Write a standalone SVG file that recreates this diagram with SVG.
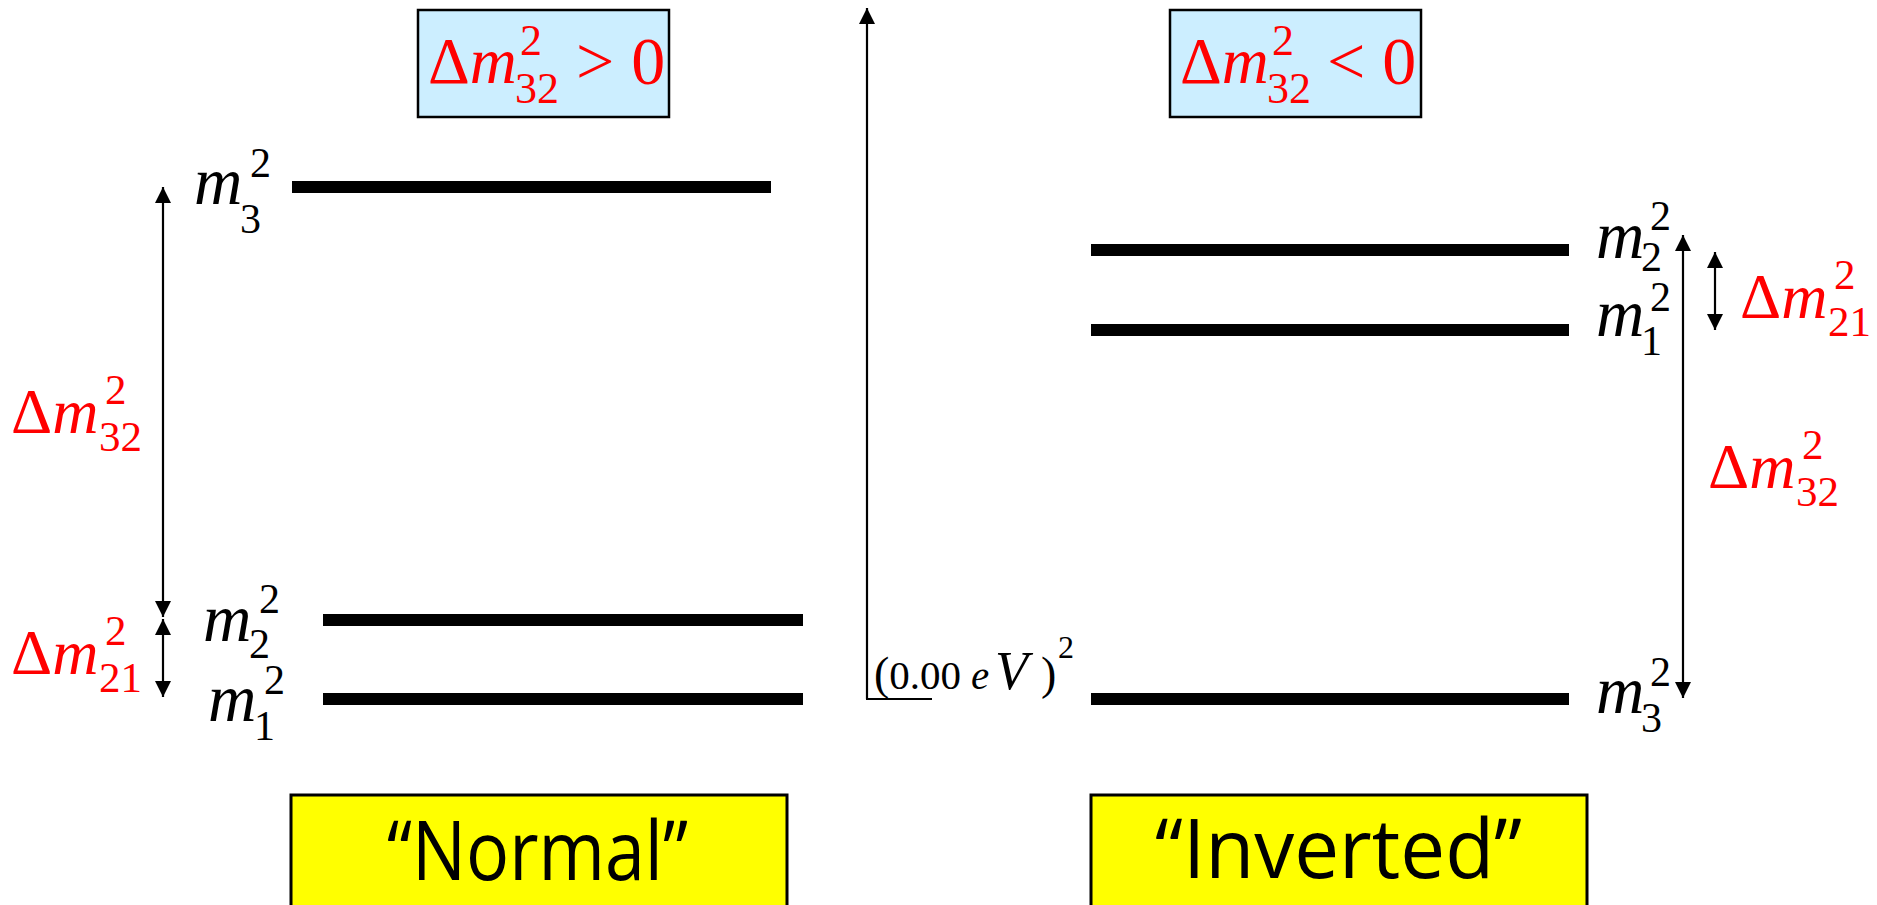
<svg xmlns="http://www.w3.org/2000/svg" width="1877" height="905" viewBox="0 0 1877 905">
<defs>
<style>
.bg{fill:#ffffff}
.lvl{fill:#000000}
.mi{font-family:"Liberation Serif",serif;font-style:italic;font-size:67px;fill:#000}
.sc{font-family:"Liberation Serif",serif;font-size:42px;fill:#000}
.rm{font-family:"Liberation Serif",serif;font-size:64px;fill:#ff0000}
.rmi{font-style:italic}
.rsc{font-family:"Liberation Serif",serif;font-size:43px;fill:#ff0000}
.bsc{font-size:44px}
.bx{fill:#cceeff;stroke:#000;stroke-width:2.5}
.by{fill:#ffff00;stroke:#000;stroke-width:3}
.bt{font-family:"Open Sans","DejaVu Sans",sans-serif;font-size:82px;fill:#000}
.ev{font-family:"Liberation Serif",serif;font-size:41px;fill:#000}
.conn{stroke:#000;stroke-width:2.2;fill:none}
</style>
<marker id="ah" markerUnits="userSpaceOnUse" markerWidth="16" markerHeight="16" refX="16" refY="8" orient="auto-start-reverse" viewBox="0 0 16 16">
<path d="M0,0 L16,8 L0,16 z" fill="#000"/>
</marker>
</defs>
<rect class="bg" x="0" y="0" width="1877" height="905"/>

<g id="box-normal-cond">
<rect class="bx" x="418" y="10" width="251" height="107"/>
<text class="rm" x="428" y="83" style="font-size:65px">Δ<tspan class="rmi">m</tspan></text>
<text class="rsc bsc" x="520" y="55">2</text>
<text class="rsc bsc" x="515" y="103">32</text>
<text class="rm" x="576" y="84" style="font-size:68px">&gt; 0</text>
</g>

<g id="box-inverted-cond">
<rect class="bx" x="1170" y="10" width="251" height="107"/>
<text class="rm" x="1180" y="83" style="font-size:65px">Δ<tspan class="rmi">m</tspan></text>
<text class="rsc bsc" x="1272" y="55">2</text>
<text class="rsc bsc" x="1267" y="103">32</text>
<text class="rm" x="1327" y="84" style="font-size:68px">&lt; 0</text>
</g>

<g id="normal-m3">
<rect class="lvl" x="292" y="181" width="479" height="12"/>
<text class="mi" x="194" y="204">m</text>
<text class="sc" x="250" y="177">2</text>
<text class="sc" x="240" y="233">3</text>
</g>
<g id="normal-m2">
<rect class="lvl" x="323" y="614" width="480" height="12"/>
<text class="mi" x="203" y="641">m</text>
<text class="sc" x="259" y="613">2</text>
<text class="sc" x="249" y="658">2</text>
</g>
<g id="normal-m1">
<rect class="lvl" x="323" y="693" width="480" height="12"/>
<text class="mi" x="208" y="721">m</text>
<text class="sc" x="264" y="694">2</text>
<text class="sc" x="254" y="740">1</text>
</g>

<g id="inverted-m2">
<rect class="lvl" x="1091" y="244" width="478" height="12"/>
<text class="mi" x="1596" y="258">m</text>
<text class="sc" x="1650" y="230">2</text>
<text class="sc" x="1641" y="271">2</text>
</g>
<g id="inverted-m1">
<rect class="lvl" x="1091" y="324" width="478" height="12"/>
<text class="mi" x="1596" y="336">m</text>
<text class="sc" x="1650" y="311">2</text>
<text class="sc" x="1641" y="355">1</text>
</g>
<g id="inverted-m3">
<rect class="lvl" x="1091" y="693" width="478" height="12"/>
<text class="mi" x="1596" y="713">m</text>
<text class="sc" x="1650" y="686">2</text>
<text class="sc" x="1641" y="732">3</text>
</g>

<g id="label-normal-dm32">
<text class="rm" x="11" y="433">Δ<tspan class="rmi">m</tspan></text>
<text class="rsc" x="105" y="404">2</text>
<text class="rsc" x="99" y="451">32</text>
</g>
<g id="label-normal-dm21">
<text class="rm" x="11" y="674">Δ<tspan class="rmi">m</tspan></text>
<text class="rsc" x="105" y="645">2</text>
<text class="rsc" x="99" y="692">21</text>
</g>
<g id="label-inverted-dm21">
<text class="rm" x="1740" y="318">Δ<tspan class="rmi">m</tspan></text>
<text class="rsc" x="1834" y="289">2</text>
<text class="rsc" x="1828" y="336">21</text>
</g>
<g id="label-inverted-dm32">
<text class="rm" x="1708" y="488">Δ<tspan class="rmi">m</tspan></text>
<text class="rsc" x="1802" y="459">2</text>
<text class="rsc" x="1796" y="506">32</text>
</g>

<g id="axis-label">
<text class="ev" x="874" y="689"><tspan style="font-size:46px">(</tspan>0.00</text>
<text class="ev" x="971" y="689" font-style="italic">e</text>
<text class="ev" x="995" y="689" font-style="italic" style="font-size:54px">V</text>
<text class="ev" x="1041" y="689" style="font-size:46px">)</text>
<text class="ev" x="1058" y="658" style="font-size:32px">2</text>
</g>

<g id="box-normal">
<rect class="by" x="291" y="795" width="496" height="120"/>
<text class="bt" x="387" y="880" textLength="301" lengthAdjust="spacingAndGlyphs">“Normal”</text>
</g>
<g id="box-inverted">
<rect class="by" x="1091" y="795" width="496" height="120"/>
<text class="bt" x="1155" y="878" textLength="367" lengthAdjust="spacingAndGlyphs">“Inverted”</text>
</g>

<g id="connectors">
<line class="conn" x1="867" y1="699" x2="867" y2="8" marker-end="url(#ah)"/>
<line class="conn" x1="866" y1="699" x2="932" y2="699"/>
<line class="conn" x1="163" y1="187" x2="163" y2="617" marker-start="url(#ah)" marker-end="url(#ah)"/>
<line class="conn" x1="163" y1="619" x2="163" y2="697" marker-start="url(#ah)" marker-end="url(#ah)"/>
<line class="conn" x1="1683" y1="235" x2="1683" y2="698" marker-start="url(#ah)" marker-end="url(#ah)"/>
<line class="conn" x1="1715" y1="252" x2="1715" y2="330" marker-start="url(#ah)" marker-end="url(#ah)"/>
</g>
</svg>
